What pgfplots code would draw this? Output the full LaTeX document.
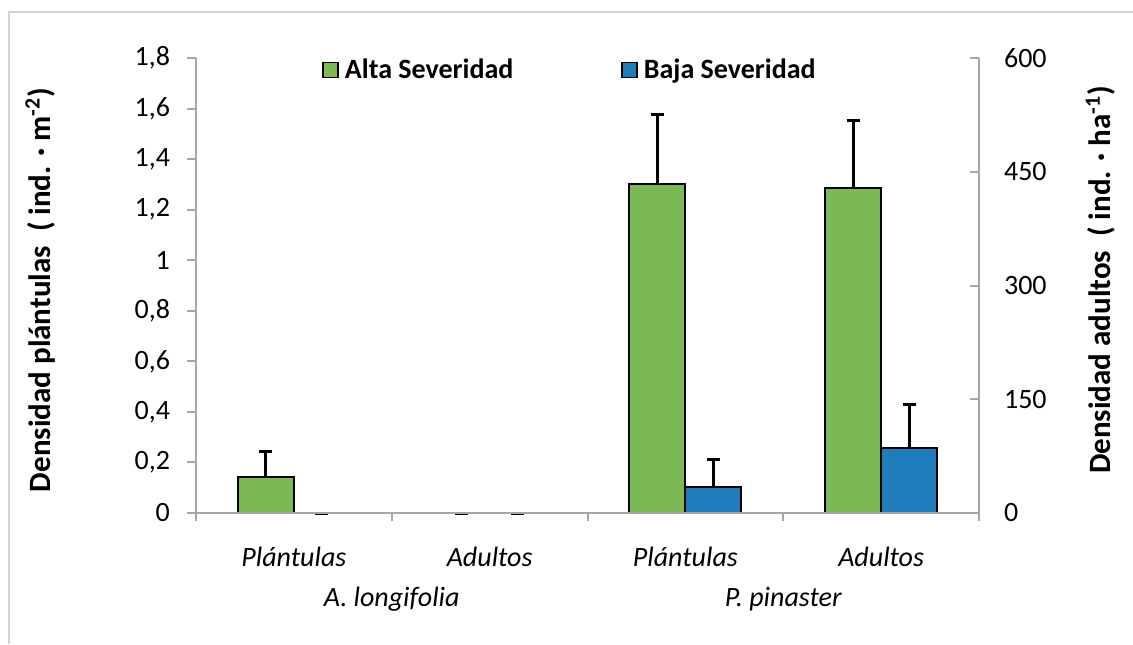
\documentclass[border=0pt]{standalone}
\usepackage{fontspec}
\setmainfont{Carlito}
\usepackage{pgfplots}
\usepackage{pgfplotstable}
\pgfplotsset{compat=1.18}
\definecolor{alta}{RGB}{124,185,86}
\definecolor{baja}{RGB}{30,125,186}
\definecolor{axgray}{RGB}{166,166,166}
\definecolor{framegray}{RGB}{212,212,212}
\newcommand\fs{\fontsize{14}{17}\selectfont}
\newcommand\fl{\fontsize{15.5}{18}\selectfont}

\pgfplotstableread{
x y e
0 0.143 0.099
1 0 0
2 1.303 0.272
3 1.287 0.264
}\alta
\pgfplotstableread{
x y e
0 0 0
1 0 0
2 0.104 0.109
3 0.257 0.173
}\baja

\begin{document}
\begin{tikzpicture}
\useasboundingbox (-98pt,-65.5pt) rectangle (468.5pt,256.5pt);
\draw[framegray, line width=1pt] (-93.5pt,-65.5pt) -- (-93.5pt,250.5pt) -- (468.5pt,250.5pt);
\begin{axis}[
  scale only axis, width=391.5pt, height=227.5pt,
  at={(0,0)}, anchor=south west,
  xmin=-0.5, xmax=3.5, ymin=0, ymax=1.8,
  ybar=0pt, bar width=28pt,
  axis on top, clip=false,
  axis x line*=bottom, axis y line*=left,
  axis line style={axgray, line width=1pt, -},
  every tick/.style={axgray, line width=1pt},
  tick align=outside,
  xtick={0,1,2,3},
  xticklabels={Plántulas,Adultos,Plántulas,Adultos},
  minor xtick={-0.5,0.5,1.5,2.5,3.5},
  major x tick style={draw=none},
  minor tick length=4pt,
  major tick length=4.5pt,
  ytick={0,0.2,0.4,0.6,0.8,1,1.2,1.4,1.6,1.8},
  /pgf/number format/.cd, use comma, fixed, assume math mode=true,
  /pgfplots/.cd,
  yticklabel style={font=\fs, text=black, xshift=-5pt},
  xticklabel style={font=\fs\itshape, text=black, anchor=base, yshift=-22pt},
  every axis y label/.style={at={(axis description cs:-0.199,0.49)}, rotate=90, anchor=center, font=\fl\bfseries},
  ylabel={Densidad plántulas\ \ ( ind. · m\textsuperscript{-2})},
  legend columns=2,
  legend style={draw=none, fill=none, at={(axis description cs:0.161,0.974)}, anchor=west,
    inner sep=0pt, font=\fs\bfseries,
    nodes={inner sep=0pt},
    /tikz/every odd column/.append style={column sep=3pt},
    /tikz/every even column/.append style={column sep=54pt}},
  legend image code/.code={\draw[#1, draw=black, line width=0.75pt] (0pt,-3.75pt) rectangle (7.5pt,3.75pt);},
]
\addplot[fill=alta, draw=black, line width=1pt,
  error bars/.cd, y dir=plus, y explicit,
  error bar style={black, line width=1.5pt},
  error mark options={black, rotate=90, mark size=3.25pt, line width=1.5pt}]
  table[x=x, y=y, y error=e] {\alta};
\addplot[fill=baja, draw=black, line width=1pt,
  error bars/.cd, y dir=plus, y explicit,
  error bar style={black, line width=1.5pt},
  error mark options={black, rotate=90, mark size=3.25pt, line width=1.5pt}]
  table[x=x, y=y, y error=e] {\baja};
\legend{Alta Severidad, Baja Severidad}
\node[font=\fs\itshape, anchor=base, yshift=-46.5pt] at (axis cs:0.5,0) {A. longifolia};
\node[font=\fs\itshape, anchor=base, yshift=-46.5pt] at (axis cs:2.5,0) {P. pinaster};
\end{axis}
\begin{axis}[
  scale only axis, width=391.5pt, height=227.5pt,
  at={(0,0)}, anchor=south west,
  xmin=-0.5, xmax=3.5, ymin=0, ymax=600,
  axis x line=none, axis y line*=right,
  axis line style={axgray, line width=1pt, -},
  every tick/.style={axgray, line width=1pt},
  tick align=inside, major tick length=4.5pt,
  ytick={0,150,300,450,600},
  /pgf/number format/.cd, assume math mode=true,
  /pgfplots/.cd,
  yticklabel style={font=\fs, text=black, xshift=9pt},
  every axis y label/.style={at={(axis description cs:1.155,0.512)}, rotate=90, anchor=center, font=\fl\bfseries},
  ylabel={Densidad adultos\ \ ( ind. · ha\textsuperscript{-1})},
]
\end{axis}
\end{tikzpicture}
\end{document}
